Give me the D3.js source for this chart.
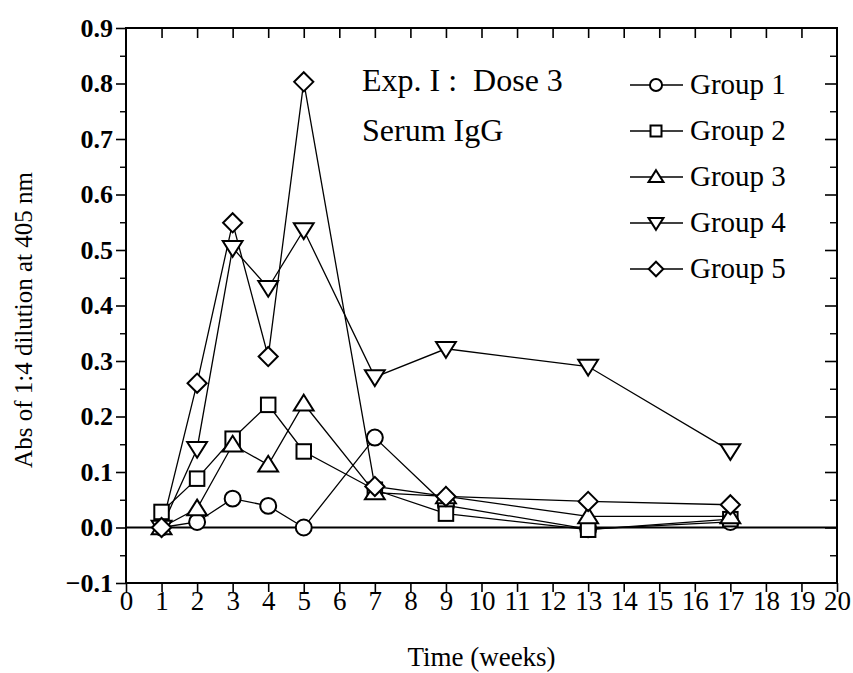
<!DOCTYPE html>
<html><head><meta charset="utf-8">
<script src="https://cdn.jsdelivr.net/npm/d3@7"></script>
<style>body{margin:0;background:#fff;} svg{display:block;}</style>
</head><body>
<script>
const weeks = [1, 2, 3, 4, 5, 7, 9, 13, 17];
const group1 = [0.000, 0.010, 0.052, 0.039, 0.000, 0.162, 0.040, -0.003, 0.010];
const group2 = [0.028, 0.088, 0.160, 0.221, 0.137, 0.068, 0.025, -0.004, 0.015];
const group3 = [0.000, 0.034, 0.149, 0.113, 0.223, 0.063, 0.056, 0.020, 0.020];
const group4 = [0.000, 0.142, 0.504, 0.432, 0.536, 0.271, 0.322, 0.290, 0.138];
const group5 = [0.000, 0.260, 0.549, 0.308, 0.803, 0.074, 0.056, 0.047, 0.041];
const seriesNames = ["Group 1", "Group 2", "Group 3", "Group 4", "Group 5"];
const symbols = ["circle", "square", "up", "down", "diamond"];
const xTicks = d3.range(0, 21);
const yTicks = [-0.1, 0.0, 0.1, 0.2, 0.3, 0.4, 0.5, 0.6, 0.7, 0.8, 0.9];
const yMinor = [-0.05, 0.05, 0.15, 0.25, 0.35, 0.45, 0.55, 0.65, 0.75, 0.85];
const titleLines = ["Exp. I :  Dose 3", "Serum IgG"];
const xLabel = "Time (weeks)";
const yLabel = "Abs of 1:4 dilution at 405 nm";

const W = 853, H = 673;
const L = 126, R = 837, T = 28, B = 583;
const font = "'Liberation Serif', 'Times New Roman', serif";
const svg = d3.select("body").append("svg").attr("width", W).attr("height", H);
const x = d3.scaleLinear().domain([0, 20]).range([L, R]);
const y = d3.scaleLinear().domain([-0.1, 0.9]).range([B, T]);

// frame
svg.append("rect").attr("x", L).attr("y", T).attr("width", R - L).attr("height", B - T)
  .attr("fill", "none").attr("stroke", "#000").attr("stroke-width", 2);
// zero line
svg.append("line").attr("x1", L).attr("x2", R).attr("y1", y(0)).attr("y2", y(0))
  .attr("stroke", "#000").attr("stroke-width", 1.8);

// bottom axis
const xb = svg.append("g").attr("transform", `translate(0,${B})`)
  .call(d3.axisBottom(x).tickValues(xTicks).tickSize(9).tickPadding(5).tickFormat(d3.format("d")));
xb.select(".domain").remove();
xb.selectAll("line").attr("stroke-width", 1.6);
xb.selectAll("text").attr("font-family", font).attr("font-size", 27).attr("fill", "#000")
  .attr("dy", null).attr("y", 27);
// top ticks inward
const xt = svg.append("g").attr("transform", `translate(0,${T})`)
  .call(d3.axisBottom(x).tickValues(xTicks.slice(1, -1)).tickSize(10).tickFormat(""));
xt.select(".domain").remove();
xt.selectAll("line").attr("stroke-width", 1.6);

// left axis
const yl = svg.append("g").attr("transform", `translate(${L},0)`)
  .call(d3.axisLeft(y).tickValues(yTicks).tickSize(10).tickPadding(3).tickFormat(d3.format(".1f")));
yl.select(".domain").remove();
yl.selectAll("line").attr("stroke-width", 1.6);
yl.selectAll("text").attr("font-family", font).attr("font-size", 26).attr("font-weight", "bold").attr("fill", "#000");
const ylm = svg.append("g").attr("transform", `translate(${L},0)`)
  .call(d3.axisLeft(y).tickValues(yMinor).tickSize(6).tickFormat(""));
ylm.select(".domain").remove();
ylm.selectAll("line").attr("stroke-width", 1.4);
// right axis inward
const yr = svg.append("g").attr("transform", `translate(${R},0)`)
  .call(d3.axisLeft(y).tickValues(yTicks.slice(1, -1)).tickSize(12).tickFormat(""));
yr.select(".domain").remove();
yr.selectAll("line").attr("stroke-width", 1.6);
const yrm = svg.append("g").attr("transform", `translate(${R},0)`)
  .call(d3.axisLeft(y).tickValues(yMinor).tickSize(7).tickFormat(""));
yrm.select(".domain").remove();
yrm.selectAll("line").attr("stroke-width", 1.4);

// labels
svg.append("text").attr("x", (L + R) / 2).attr("y", 666).attr("text-anchor", "middle")
  .attr("font-family", font).attr("font-size", 27).text(xLabel);
svg.append("text").attr("transform", `translate(32,320) rotate(-90)`)
  .attr("text-anchor", "middle").attr("font-family", font).attr("font-size", 25).text(yLabel);

// title
titleLines.forEach((t, i) => {
  svg.append("text").attr("x", 362).attr("y", 91 + i * 50)
    .attr("font-family", font).attr("font-size", 32).attr("xml:space", "preserve")
    .style("white-space", "pre").text(t);
});

function drawSymbol(g, type, cx, cy, s) {
  const st = { fill: "#fff", stroke: "#000", "stroke-width": 2 };
  let el;
  if (type === "circle") {
    el = g.append("circle").attr("cx", cx).attr("cy", cy).attr("r", s * 0.55);
  } else if (type === "square") {
    el = g.append("rect").attr("x", cx - s * 0.5).attr("y", cy - s * 0.5).attr("width", s).attr("height", s);
  } else if (type === "up") {
    const h = s * 0.62;
    el = g.append("path").attr("d", `M${cx},${cy - h}L${cx + h * 1.1},${cy + h * 0.75}L${cx - h * 1.1},${cy + h * 0.75}Z`);
  } else if (type === "down") {
    const h = s * 0.62;
    el = g.append("path").attr("d", `M${cx},${cy + h}L${cx + h * 1.1},${cy - h * 0.75}L${cx - h * 1.1},${cy - h * 0.75}Z`);
  } else {
    const h = s * 0.66;
    el = g.append("path").attr("d", `M${cx},${cy - h}L${cx + h},${cy}L${cx},${cy + h}L${cx - h},${cy}Z`);
  }
  Object.entries(st).forEach(([k, v]) => el.attr(k, v));
}

const allSeries = [group1, group2, group3, group4, group5];
const line = d3.line().x((d, i) => x(weeks[i])).y(d => y(d));
const plot = svg.append("g");
allSeries.forEach((vals) => {
  plot.append("path").attr("d", line(vals)).attr("fill", "none").attr("stroke", "#000").attr("stroke-width", 1.3);
});
allSeries.forEach((vals, si) => {
  vals.forEach((v, i) => drawSymbol(plot, symbols[si], x(weeks[i]), y(v), 14.5));
});

// legend
const lg = svg.append("g");
seriesNames.forEach((n, i) => {
  const cy = 85 + i * 46;
  lg.append("line").attr("x1", 630).attr("x2", 683).attr("y1", cy).attr("y2", cy)
    .attr("stroke", "#000").attr("stroke-width", 1.3);
  drawSymbol(lg, symbols[i], 656, cy, 11);
  lg.append("text").attr("x", 690).attr("y", cy + 9).attr("font-family", font).attr("font-size", 29).text(n);
});
</script>
</body></html>
